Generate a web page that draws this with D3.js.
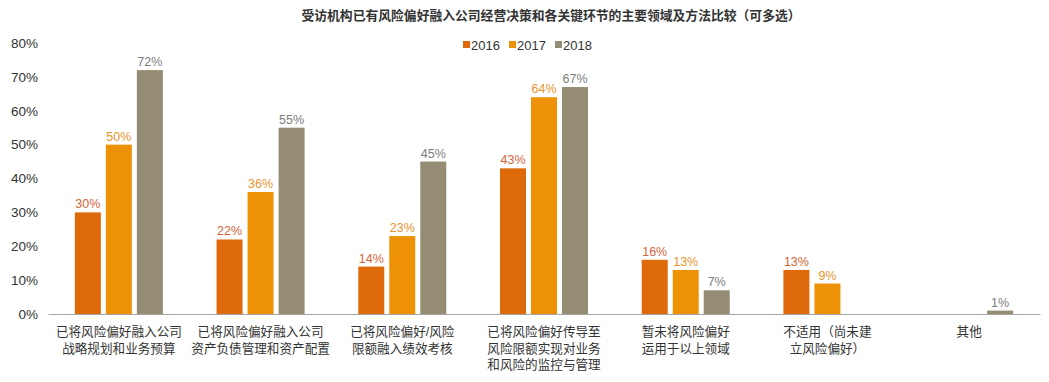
<!DOCTYPE html>
<html><head><meta charset="utf-8">
<script src="https://cdn.jsdelivr.net/npm/d3@7"></script>
<style>
body{margin:0;background:#fff;}
text{font-family:"Liberation Sans","Noto Sans CJK SC",Arial,sans-serif;}
</style></head>
<body><svg id="chart" width="1049" height="382"></svg>
<script>
const title = "受访机构已有风险偏好融入公司经营决策和各关键环节的主要领域及方法比较（可多选）";
const categories = [
  "已将风险偏好融入公司\n战略规划和业务预算",
  "已将风险偏好融入公司\n资产负债管理和资产配置",
  "已将风险偏好/风险\n限额融入绩效考核",
  "已将风险偏好传导至\n风险限额实现对业务\n和风险的监控与管理",
  "暂未将风险偏好\n运用于以上领域",
  "不适用（尚未建\n立风险偏好）",
  "其他"
];
const seriesNames = ["2016", "2017", "2018"];
const v2016 = [30, 22, 14, 43, 16, 13, null];
const v2017 = [50, 36, 23, 64, 13, 9, null];
const v2018 = [72, 55, 45, 67, 7, null, 1];
const yTicks = [0, 10, 20, 30, 40, 50, 60, 70, 80];

const seriesValues = [v2016, v2017, v2018];
const barColors = ["#df6a0b", "#ed9206", "#958d73"];
const labelColors = ["#d4643a", "#e8932c", "#7d7d7d"];

const svg = d3.select("#chart");
const mLeft = 48, mRight = 1040, mTop = 43, mBottom = 314;

const x0 = d3.scaleBand().domain(categories).range([mLeft, mRight]).padding(0);
const groupW = 88;
const x1 = d3.scaleBand().domain(seriesNames).range([0, groupW]).paddingInner(5/31).paddingOuter(0);
const y = d3.scaleLinear().domain([0, 80]).range([mBottom, mTop]);

// title
svg.append("text").attr("x", 551).attr("y", 20).attr("text-anchor", "middle")
  .attr("font-size", 12.8).attr("font-weight", "bold").attr("fill", "#333").text(title);

// legend
const legX = [463, 509, 555];
seriesNames.forEach((s, i) => {
  svg.append("rect").attr("x", legX[i]).attr("y", 41).attr("width", 7).attr("height", 7).attr("fill", barColors[i]);
  svg.append("text").attr("x", legX[i] + 8).attr("y", 50).attr("font-size", 13).attr("fill", "#333").text(s);
});

// y axis
const yAxis = d3.axisLeft(y).tickValues(yTicks).tickFormat(d => d + "%").tickSize(0).tickPadding(0);
const gy = svg.append("g").attr("transform", `translate(38,0)`).call(yAxis);
gy.select(".domain").remove();
gy.selectAll("text").attr("font-size", 13.5).attr("fill", "#333").attr("font-family", '"Liberation Sans","Noto Sans CJK SC",Arial,sans-serif');

// bars
const groups = svg.append("g");
categories.forEach((c, ci) => {
  const gx = x0(c) + (x0.bandwidth() - groupW) / 2;
  seriesNames.forEach((s, si) => {
    const v = seriesValues[si][ci];
    if (v === null) return;
    const bx = gx + x1(s);
    groups.append("rect").attr("x", bx).attr("y", y(v)).attr("width", x1.bandwidth())
      .attr("height", y(0) - y(v)).attr("fill", barColors[si]);
    groups.append("text").attr("x", bx + x1.bandwidth() / 2).attr("y", y(v) - 4)
      .attr("text-anchor", "middle").attr("font-size", 12.5).attr("fill", labelColors[si]).text(v + "%");
  });
});

// x axis
const xAxis = d3.axisBottom(x0).tickSize(0).tickFormat("");
const gX = svg.append("g").attr("transform", `translate(0,${mBottom})`).call(xAxis);
gX.select(".domain").attr("stroke", "#a6a6a6").attr("stroke-width", 1.2);

categories.forEach(c => {
  const lines = c.split("\n");
  const t = svg.append("text").attr("x", x0(c) + x0.bandwidth() / 2).attr("y", mBottom + 22)
    .attr("text-anchor", "middle").attr("font-size", 12.6).attr("fill", "#333");
  lines.forEach((l, i) => {
    t.append("tspan").attr("x", x0(c) + x0.bandwidth() / 2).attr("dy", i === 0 ? 0 : 16.5).text(l);
  });
});
</script></body></html>
